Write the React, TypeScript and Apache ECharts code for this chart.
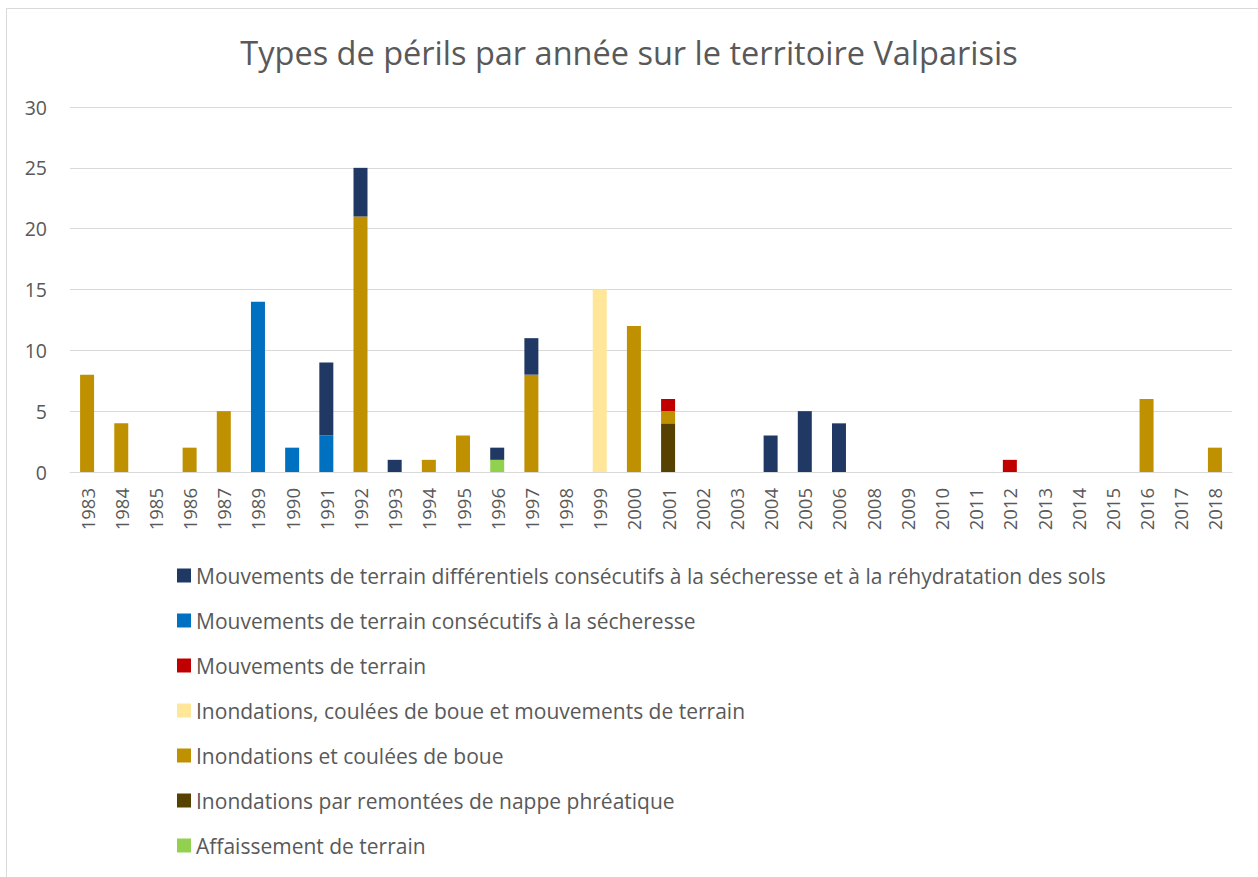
import React, { useEffect, useRef } from "react";
import * as echarts from "echarts";

const years = ["1983","1984","1985","1986","1987","1989","1990","1991","1992","1993","1994","1995","1996","1997","1998","1999","2000","2001","2002","2003","2004","2005","2006","2008","2009","2010","2011","2012","2013","2014","2015","2016","2017","2018"];

const affaissement =   [0,0,0,0,0,0,0,0,0,0,0,0,1,0,0,0,0,0,0,0,0,0,0,0,0,0,0,0,0,0,0,0,0,0];
const nappe =          [0,0,0,0,0,0,0,0,0,0,0,0,0,0,0,0,0,4,0,0,0,0,0,0,0,0,0,0,0,0,0,0,0,0];
const inondBoue =      [8,4,0,2,5,0,0,0,21,0,1,3,0,8,0,0,12,1,0,0,0,0,0,0,0,0,0,0,0,0,0,6,0,2];
const inondBoueMvt =   [0,0,0,0,0,0,0,0,0,0,0,0,0,0,0,15,0,0,0,0,0,0,0,0,0,0,0,0,0,0,0,0,0,0];
const mvtTerrain =     [0,0,0,0,0,0,0,0,0,0,0,0,0,0,0,0,0,1,0,0,0,0,0,0,0,0,0,1,0,0,0,0,0,0];
const mvtSecheresse =  [0,0,0,0,0,14,2,3,0,0,0,0,0,0,0,0,0,0,0,0,0,0,0,0,0,0,0,0,0,0,0,0,0,0];
const mvtDiff =        [0,0,0,0,0,0,0,6,4,1,0,0,1,3,0,0,0,0,0,0,3,5,4,0,0,0,0,0,0,0,0,0,0,0];

const seriesDefs = [
  { name: "Affaissement de terrain", data: affaissement, color: "#92D050" },
  { name: "Inondations par remontées de nappe phréatique", data: nappe, color: "#564100" },
  { name: "Inondations et coulées de boue", data: inondBoue, color: "#BF9000" },
  { name: "Inondations, coulées de boue et mouvements de terrain", data: inondBoueMvt, color: "#FFE699" },
  { name: "Mouvements de terrain", data: mvtTerrain, color: "#C00000" },
  { name: "Mouvements de terrain consécutifs à la sécheresse", data: mvtSecheresse, color: "#0070C0" },
  { name: "Mouvements de terrain différentiels consécutifs à la sécheresse et à la réhydratation des sols", data: mvtDiff, color: "#203864" },
];

const FONT = "'Open Sans', 'Noto Sans', sans-serif";

export default function App() {
  const ref = useRef<HTMLDivElement>(null);
  useEffect(() => {
    document.body.style.margin = "0";
    const chart = echarts.init(ref.current!, undefined, { renderer: "svg" });
    chart.setOption({
      animation: false,
      backgroundColor: "#ffffff",
      title: {
        text: "Types de périls par année sur le territoire Valparisis",
        left: "center",
        top: 31,
        textStyle: { color: "#595959", fontSize: 32.5, fontWeight: "normal", fontFamily: FONT },
      },
      graphic: [
        {
          type: "rect",
          shape: { x: 6.5, y: 8.5, width: 1270, height: 880 },
          style: { fill: "none", stroke: "#d9d9d9", lineWidth: 1 },
          silent: true,
        },
      ],
      grid: { left: 70, right: 26, top: 107, bottom: 405, containLabel: false },
      legend: {
        orient: "vertical",
        left: 172,
        top: 560,
        itemWidth: 14,
        itemHeight: 14,
        itemGap: 24,
        icon: "rect",
        data: seriesDefs.map((s) => s.name).slice().reverse(),
        textStyle: { color: "#595959", fontSize: 21, fontFamily: FONT },
      },
      xAxis: {
        type: "category",
        data: years,
        axisLine: { lineStyle: { color: "#d9d9d9", width: 1 } },
        axisTick: { show: false },
        axisLabel: { rotate: 90, color: "#595959", fontSize: 18.5, fontFamily: FONT, margin: 16, interval: 0 },
      },
      yAxis: {
        type: "value",
        min: 0,
        max: 30,
        interval: 5,
        axisLine: { show: false },
        axisTick: { show: false },
        splitLine: { lineStyle: { color: "#d9d9d9", width: 1 } },
        axisLabel: { color: "#595959", fontSize: 19.5, fontFamily: FONT, margin: 23 },
      },
      series: seriesDefs.map((s) => ({
        name: s.name,
        type: "bar",
        stack: "total",
        data: s.data,
        barWidth: 14,
        itemStyle: { color: s.color },
      })),
    });
    return () => chart.dispose();
  }, []);
  return <div ref={ref} style={{ width: 1258, height: 877 }} />;
}
